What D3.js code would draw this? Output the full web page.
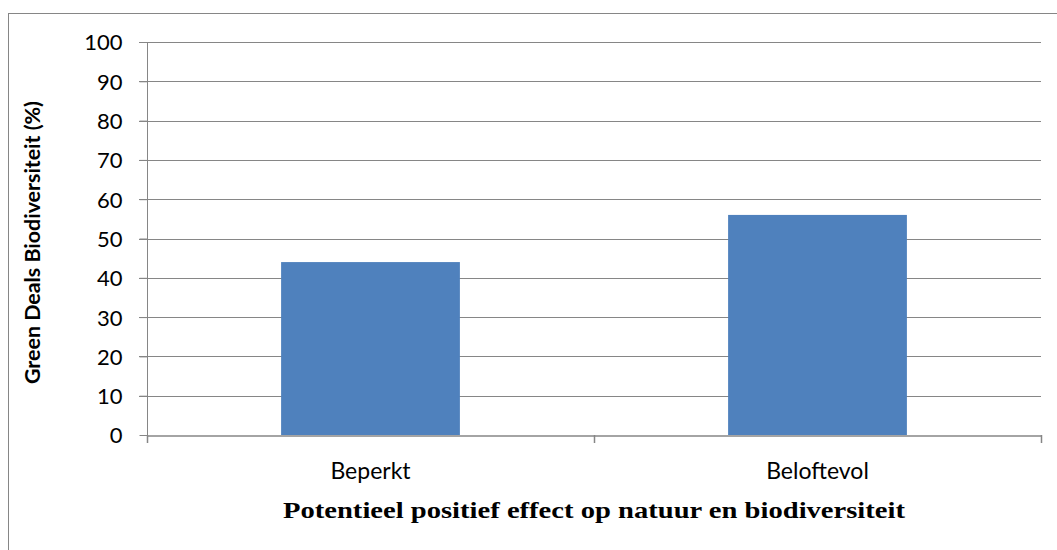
<!DOCTYPE html>
<html>
<head>
<meta charset="utf-8">
<script src="https://cdn.jsdelivr.net/npm/d3@7"></script>
<style>
  body { margin: 0; background: #fff; }
  svg { display: block; }
</style>
</head>
<body>
<div id="chart"></div>
<script>
// data
const categories = ["Beperkt", "Beloftevol"];
const values = [44, 56];
const yTicks = [0, 10, 20, 30, 40, 50, 60, 70, 80, 90, 100];
const xTitle = "Potentieel positief effect op natuur en biodiversiteit";
const yTitle = "Green Deals Biodiversiteit (%)";

const width = 1057, height = 550;
const margin = { top: 42, right: 16, bottom: 115, left: 147 };

const svg = d3.select("#chart").append("svg")
    .attr("width", width)
    .attr("height", height);

// outer chart frame (runs off the right and bottom edge)
svg.append("rect")
    .attr("x", 8.5).attr("y", 13.5)
    .attr("width", 1060).attr("height", 560)
    .attr("fill", "none")
    .attr("stroke", "#868686")
    .attr("stroke-width", 1);

const x = d3.scaleBand()
    .domain(categories)
    .range([margin.left, width - margin.right])
    .paddingInner(0)
    .paddingOuter(0);

const y = d3.scaleLinear()
    .domain([0, 100])
    .range([height - margin.bottom, margin.top]);

// gridlines
svg.append("g")
    .selectAll("line")
    .data(yTicks.filter(d => d > 0))
    .join("line")
    .attr("x1", margin.left - 8)
    .attr("x2", width - margin.right)
    .attr("y1", d => Math.round(y(d)) + 0.5)
    .attr("y2", d => Math.round(y(d)) + 0.5)
    .attr("stroke", "#868686")
    .attr("stroke-width", 1);

// bars
const barW = x.bandwidth() * 0.4;
svg.append("g")
    .selectAll("rect")
    .data(categories.map((c, i) => ({ c, v: values[i] })))
    .join("rect")
    .attr("x", d => x(d.c) + (x.bandwidth() - barW) / 2)
    .attr("y", d => y(d.v))
    .attr("width", barW)
    .attr("height", d => y(0) - y(d.v))
    .attr("fill", "#4F81BD");

// y axis
const yAxis = svg.append("g")
    .attr("transform", `translate(${margin.left + 0.5},0)`)
    .call(d3.axisLeft(y).tickValues(yTicks).tickSize(8).tickPadding(17));
yAxis.select(".domain").attr("stroke", "#868686").attr("d", `M0,${y(100)}V${y(0) + 8}`);
yAxis.selectAll(".tick line").attr("stroke", "#868686");
yAxis.selectAll("text")
    .attr("font-family", "Lato, 'Open Sans', sans-serif")
    .attr("font-size", 22)
    .attr("fill", "#000")
    .attr("dy", "0.36em");

// x axis
const xAxis = svg.append("g")
    .attr("transform", `translate(0,${Math.round(y(0)) + 0.5})`)
    .call(d3.axisBottom(x).tickSize(0).tickPadding(27));
xAxis.select(".domain").attr("stroke", "#868686").attr("stroke-width", 1.5);
xAxis.selectAll("text")
    .attr("font-family", "Lato, 'Open Sans', sans-serif")
    .attr("font-size", 23)
    .attr("fill", "#000");

// category boundary ticks
const bounds = [x.range()[0], x(categories[1]), x.range()[1]];
svg.append("g")
    .selectAll("line")
    .data(bounds)
    .join("line")
    .attr("x1", d => Math.round(d) + 0.5)
    .attr("x2", d => Math.round(d) + 0.5)
    .attr("y1", y(0))
    .attr("y2", y(0) + 8)
    .attr("stroke", "#868686")
    .attr("stroke-width", 1.5);

// x title
svg.append("text")
    .attr("x", (margin.left + width - margin.right) / 2)
    .attr("y", 518)
    .attr("text-anchor", "middle")
    .attr("font-family", "'Liberation Serif', 'DejaVu Serif', serif")
    .attr("font-weight", "bold")
    .attr("font-size", 24)
    .attr("textLength", 622)
    .attr("lengthAdjust", "spacingAndGlyphs")
    .text(xTitle);

// y title
svg.append("text")
    .attr("transform", `translate(40,${(y(0) + y(100)) / 2 + 4}) rotate(-90)`)
    .attr("text-anchor", "middle")
    .attr("font-family", "Lato, 'Open Sans', sans-serif")
    .attr("font-weight", "bold")
    .attr("font-size", 21)
    .attr("textLength", 283)
    .attr("lengthAdjust", "spacingAndGlyphs")
    .text(yTitle);
</script>
</body>
</html>
